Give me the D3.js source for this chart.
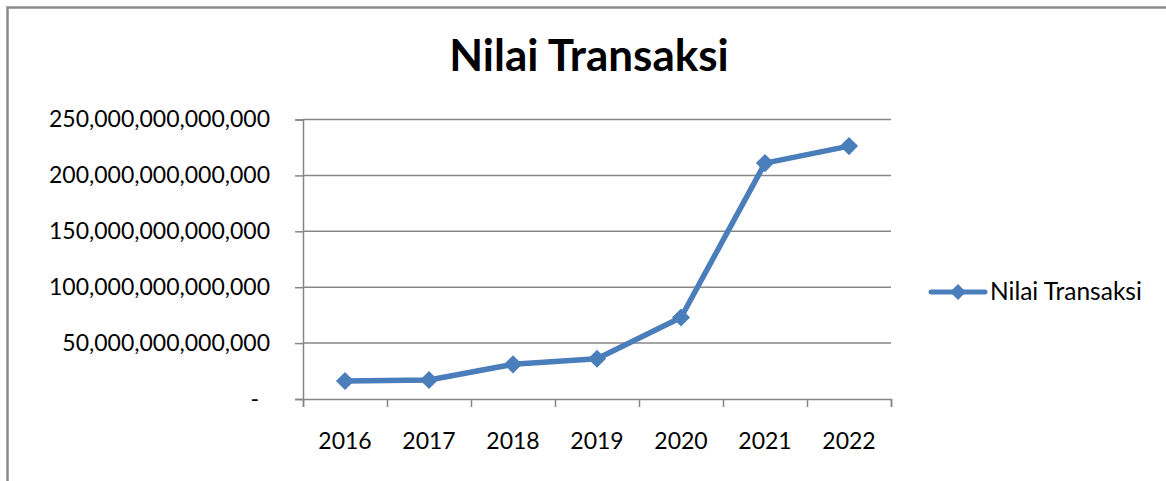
<!DOCTYPE html>
<html>
<head>
<meta charset="utf-8">
<script src="https://cdn.jsdelivr.net/npm/d3@7"></script>
<style>
  body { margin: 0; background: #fff; }
  svg { display: block; font-family: Lato, 'Open Sans', sans-serif; }
</style>
</head>
<body>
<div id="chart"></div>
<script>
const years = ['2016', '2017', '2018', '2019', '2020', '2021', '2022'];
const values = [16.1e12, 17.0e12, 31.0e12, 36.0e12, 72.9e12, 211.0e12, 226.2e12];
const yTicks = [0, 50e12, 100e12, 150e12, 200e12, 250e12];
const seriesName = 'Nilai Transaksi';

const width = 1166;
const height = 481;
const blue = '#4a7ebb';
const grey = '#868686';

const plot = { left: 303, right: 891, top: 119.5, bottom: 399 };

const svg = d3.select('#chart')
  .append('svg')
  .attr('width', width)
  .attr('height', height);

// outer chart frame (right/bottom fall outside the picture)
svg.append('rect')
  .attr('x', 7.5).attr('y', 7.5)
  .attr('width', 1300).attr('height', 600)
  .attr('fill', 'none')
  .attr('stroke', '#8a8a8a')
  .attr('stroke-width', 2.5);

// title
svg.append('text')
  .attr('x', 589).attr('y', 71)
  .attr('text-anchor', 'middle')
  .style('font-size', '44px')
  .style('font-weight', 'bold')
  .text(seriesName);

const x = d3.scaleBand().domain(years).range([plot.left, plot.right]);
const y = d3.scaleLinear().domain([0, 250e12]).range([plot.bottom, plot.top]);

// gridlines
svg.append('g')
  .selectAll('line')
  .data(yTicks.slice(1))
  .join('line')
  .attr('x1', plot.left).attr('x2', plot.right)
  .attr('y1', d => y(d)).attr('y2', d => y(d))
  .attr('stroke', grey)
  .attr('stroke-width', 1.5);

// y axis
const yAxis = d3.axisLeft(y)
  .tickValues(yTicks)
  .tickSize(8)
  .tickPadding(25)
  .tickFormat(d => d === 0 ? '-' : d3.format(',.0f')(d));

const gy = svg.append('g')
  .attr('transform', `translate(${plot.left},0)`)
  .call(yAxis);
gy.select('.domain').attr('stroke', grey).attr('stroke-width', 1.5);
gy.selectAll('.tick line').attr('stroke', grey).attr('stroke-width', 1.5);
gy.selectAll('.tick text')
  .style('font-size', '23px')
  .style('font-family', 'Lato')
  .attr('fill', '#000')
  .attr('dx', d => d === 0 ? -11 : 0);

// x axis: ticks on category boundaries
const xEdge = d3.scaleLinear().domain([0, years.length]).range([plot.left, plot.right]);
const gx = svg.append('g')
  .attr('transform', `translate(0,${plot.bottom})`)
  .call(d3.axisBottom(xEdge).ticks(years.length).tickSize(8).tickFormat(''));
gx.select('.domain').attr('stroke', grey).attr('stroke-width', 1.5);
gx.selectAll('.tick line').attr('stroke', grey).attr('stroke-width', 1.5);

svg.append('g')
  .selectAll('text')
  .data(years)
  .join('text')
  .attr('x', d => x(d) + x.bandwidth() / 2)
  .attr('y', 449)
  .attr('text-anchor', 'middle')
  .style('font-size', '23px')
  .text(d => d);

// series line
const line = d3.line()
  .x((d, i) => x(years[i]) + x.bandwidth() / 2)
  .y(d => y(d));

svg.append('path')
  .datum(values)
  .attr('d', line)
  .attr('fill', 'none')
  .attr('stroke', blue)
  .attr('stroke-width', 5.5)
  .attr('stroke-linejoin', 'round');

const diamond = d3.symbol().type(d3.symbolDiamond2).size(210);

svg.append('g')
  .selectAll('path')
  .data(values)
  .join('path')
  .attr('transform', (d, i) => `translate(${x(years[i]) + x.bandwidth() / 2},${y(d)})`)
  .attr('d', diamond)
  .attr('fill', blue);

// legend
const legend = svg.append('g').attr('transform', 'translate(931,292)');
legend.append('line')
  .attr('x1', 0).attr('x2', 54)
  .attr('stroke', blue)
  .attr('stroke-width', 5)
  .attr('stroke-linecap', 'round');
legend.append('path')
  .attr('transform', 'translate(27,0)')
  .attr('d', d3.symbol().type(d3.symbolDiamond2).size(160))
  .attr('fill', blue);
legend.append('text')
  .attr('x', 59).attr('y', 8)
  .style('font-size', '24.5px')
  .text(seriesName);
</script>
</body>
</html>
